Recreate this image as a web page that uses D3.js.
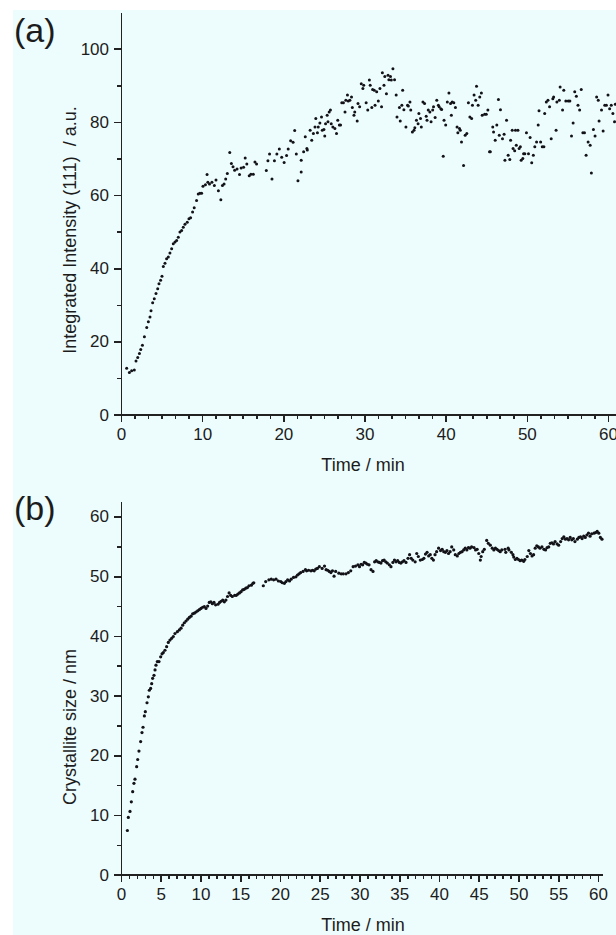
<!DOCTYPE html>
<html>
<head>
	<meta charset="utf-8">
	<title>Integrated intensity and crystallite size vs time</title>
	<style type="text/css">
		html, body {
			margin: 0;
			padding: 0;
			background: white;
		}
		svg text {
			font-family: 'Liberation Sans', Arial, sans-serif;
			fill: #1c1c1c;
		}
		.axis path, .axis line {
			stroke: #222;
			stroke-width: 1.6;
			shape-rendering: crispEdges;
		}
		.axis text {
			font-size: 17px;
		}
		.title {
			font-size: 18px;
			white-space: pre;
		}
		.panelLabel {
			font-size: 34px;
		}
	</style>
</head>
<body>

<svg id="fig" width="616" height="935"></svg>

<script src="https://cdn.jsdelivr.net/npm/d3@7"></script>
<script type="text/javascript">

// (a) integrated intensity of the (111) reflection, [time / min, a.u.]
var intensity = [
	[0.7,12.7],[1.03,11.5],[1.31,12.0],[1.64,12.2],[1.85,14.7],[2.06,15.6],[2.27,16.7],[2.43,17.8],[2.64,19.0],[2.88,21.3],
	[3.17,23.8],[3.37,25.4],[3.57,26.7],[3.7,28.4],[3.9,30.6],[4.1,31.7],[4.31,33.1],[4.52,34.4],[4.68,35.8],[4.88,36.7],
	[5.05,37.8],[5.21,40.5],[5.42,41.4],[5.62,42.6],[5.83,43.1],[6.03,44.2],[6.24,45.3],[6.44,46.7],[6.65,47.2],[6.85,47.6],
	[7.06,48.5],[7.26,49.9],[7.47,50.3],[7.67,51.2],[7.88,52.0],[8.16,52.6],[8.37,53.5],[8.57,53.8],[8.82,55.4],[9.02,56.5],
	[9.31,58.5],[9.52,60.3],[9.72,60.5],[9.93,60.5],[10.1,62.4],[10.4,62.8],[10.6,65.6],[10.7,63.5],[10.9,63.0],[11.2,63.5],
	[11.5,62.6],[11.7,64.1],[12.0,61.2],[12.3,58.7],[12.5,62.6],[12.7,63.0],[12.9,64.4],[13.1,65.9],[13.4,71.6],[13.6,68.6],
	[13.8,67.7],[14.0,66.8],[14.3,67.1],[14.6,65.6],[14.8,67.4],[15.1,67.6],[15.3,70.1],[15.5,68.5],[15.8,65.3],[16.0,65.7],
	[16.3,65.7],[16.5,69.0],[16.7,68.5],
	[17.9,66.7],[18.1,69.4],[18.3,71.2],[18.6,64.4],[18.9,69.4],[19.2,71.2],[19.5,72.6],[19.8,70.3],[20.1,68.9],[20.4,70.8],
	[20.6,72.6],[20.9,74.8],[21.2,74.4],[21.4,77.6],[21.6,71.2],[21.8,63.9],[22.2,66.3],[22.2,69.5],[22.5,71.8],[22.7,75.9],
	[22.9,72.7],[22.95,72.3],[23.3,77.7],[23.5,75.0],[23.7,76.8],[23.9,78.6],[24.0,80.9],[24.2,77.0],[24.3,78.6],[24.5,79.7],
	[24.7,81.3],[24.8,77.7],[25.0,77.9],[25.1,76.1],[25.2,79.5],[25.4,81.8],[25.5,80.0],[25.65,82.7],[25.8,83.2],[25.9,79.5],
	[26.1,78.6],[26.35,78.2],[26.55,76.8],[26.7,80.4],[26.9,79.1],[27.05,79.1],[27.2,85.2],[27.4,85.2],[27.6,82.7],[27.7,85.9],
	[27.9,87.3],[28.0,85.7],[28.2,85.9],[28.4,86.8],[28.5,83.9],[28.7,81.8],[28.8,82.7],[29.1,80.2],[29.2,85.0],[29.4,84.1],
	[29.6,90.4],[29.8,89.1],[29.9,90.0],[30.2,85.2],[30.4,83.2],[30.6,91.4],[30.7,90.0],[30.9,83.9],[31.0,88.8],[31.2,88.6],
	[31.3,84.5],[31.5,88.2],[31.7,85.7],[31.9,89.1],[32.1,84.1],[32.2,93.4],[32.4,90.0],[32.5,92.4],[32.7,87.7],[32.9,92.7],
	[33.0,91.5],[33.2,92.4],[33.3,91.4],[33.5,94.5],[33.7,91.5],[33.9,87.3],[34.0,81.3],[34.3,83.9],[34.4,80.2],[34.6,84.5],
	[34.7,88.6],[34.85,83.3],[35.1,78.6],[35.3,84.5],[35.4,84.3],[35.6,85.4],[35.7,83.2],[35.9,77.2],[36.1,77.7],[36.2,78.4],
	[36.4,80.4],[36.6,79.5],[36.7,82.3],[36.9,80.9],[37.0,78.6],[37.2,85.4],[37.4,85.0],[37.6,81.5],[37.7,80.4],[37.85,83.2],
	[38.05,82.7],[38.2,80.0],[38.4,83.2],[38.5,84.1],[38.7,81.2],[38.9,85.9],[39.1,84.5],[39.2,84.1],[39.4,83.6],[39.5,83.4],
	[39.7,70.6],[39.8,80.4],[40.0,79.1],[40.2,85.4],[40.4,87.9],[40.6,85.0],[40.7,81.8],[40.8,85.4],[41.0,85.2],[41.2,83.9],
	[41.4,78.6],[41.5,77.0],[41.7,78.2],[41.8,77.7],[41.95,74.5],[42.2,68.1],[42.4,76.3],[42.6,76.8],[42.8,85.2],[42.98,81.3],
	[43.2,80.9],[43.3,84.5],[43.5,87.3],[43.7,85.9],[43.8,89.7],[44.0,84.5],[44.2,86.8],[44.4,87.9],[44.5,81.8],[44.8,82.1],
	[45.0,82.1],[45.2,83.2],[45.4,71.8],[45.5,71.8],[45.8,78.6],[45.9,77.2],[46.1,75.0],[46.3,79.1],[46.5,86.1],[46.6,76.3],
	[46.75,83.3],[47.0,75.4],[47.2,76.6],[47.3,69.5],[47.5,80.4],[47.7,70.9],[47.9,69.7],[48.0,75.0],[48.2,77.7],[48.3,72.7],
	[48.5,72.1],[48.6,77.7],[48.7,73.6],[48.9,77.7],[49.05,72.7],[49.2,73.2],[49.3,69.5],[49.5,70.0],[49.6,71.3],[49.75,71.3],
	[49.95,77.0],[50.2,71.3],[50.4,75.7],[50.6,68.8],[50.8,70.9],[50.98,73.2],[51.2,74.5],[51.4,79.1],[51.5,83.0],[51.7,74.5],
	[51.9,73.2],[52.1,73.2],[52.2,82.3],[52.4,85.4],[52.6,85.9],[52.8,84.1],[53.0,75.4],[53.2,86.3],[53.3,86.8],[53.6,77.7],
	[53.7,85.4],[54.0,85.9],[54.1,89.5],[54.4,83.2],[54.55,88.6],[54.8,85.7],[55.1,85.7],[55.3,85.7],[55.5,76.1],[55.7,79.7],
	[55.9,88.2],[56.1,87.0],[56.3,84.5],[56.5,83.2],[56.7,88.8],[56.9,77.0],[57.1,77.0],[57.3,70.9],[57.55,74.5],[57.8,73.6],
	[57.95,66.0],[58.2,77.9],[58.4,76.1],[58.6,86.8],[58.8,85.9],[58.9,80.2],[59.2,83.2],[59.4,77.5],[59.6,84.5],[59.8,84.5],
	[60.0,87.3],[60.2,83.6],[60.4,84.5],[60.6,82.3],[60.8,80.0],[60.9,84.8]
];

// (b) crystallite size, [time / min, nm]
var crystSize = [
	[0.8,7.4],[0.92,9.6],[1.13,10.6],[1.3,12.2],[1.47,13.9],[1.63,15.3],[1.76,16.0],[1.97,18.1],[2.1,19.3],[2.26,20.7],
	[2.47,22.3],[2.64,23.8],[2.77,24.7],[2.94,26.6],[3.06,27.3],[3.27,28.8],[3.44,29.8],[3.56,30.9],[3.73,31.2],[3.86,32.0],
	[3.98,32.9],[4.15,33.4],[4.28,34.3],[4.4,35.1],[4.57,35.7],[4.78,35.7],[4.99,36.5],[5.16,37.0],[5.32,37.2],[5.53,37.6],
	[5.74,38.2],[5.95,38.9],[6.16,39.3],[6.37,39.6],[6.58,39.9],[6.79,40.4],[7.09,40.7],[7.34,41.0],[7.55,41.3],[7.76,41.8],
	[7.97,42.2],[8.18,42.5],[8.39,42.8],[8.6,43.1],[8.81,43.3],[9.01,43.7],[9.22,43.8],[9.43,44.0],[9.64,44.2],[9.85,44.4],
	[10.06,44.6],[10.27,44.8],[10.48,44.9],[10.69,44.6],[10.9,45.0],[11.1,45.6],[11.3,45.7],[11.5,45.4],[11.7,45.6],[11.9,45.2],
	[12.2,45.3],[12.4,45.6],[12.6,45.8],[12.8,46.0],[13.0,45.7],[13.2,46.0],[13.4,46.6],[13.6,47.2],[13.8,46.8],[14.0,46.6],
	[14.3,46.8],[14.5,46.8],[14.7,47.0],[14.9,47.2],[15.1,47.4],[15.3,47.7],[15.5,47.8],[15.7,48.0],[15.9,48.1],[16.1,48.4],
	[16.4,48.5],[16.6,48.8],[16.7,48.9],
	[17.9,48.4],[18.2,49.1],[18.6,49.4],[18.9,49.5],[19.2,49.4],[19.5,49.5],[19.8,49.2],[20.1,49.1],[20.3,48.9],[20.55,48.8],
	[20.75,49.1],[20.96,49.4],[21.2,49.2],[21.4,49.5],[21.7,49.8],[22.0,49.9],[22.2,50.2],[22.4,50.4],[22.6,50.6],[22.9,50.8],
	[23.2,51.1],[23.35,50.9],[23.6,51.0],[23.9,50.9],[24.1,51.0],[24.3,50.9],[24.5,51.2],[24.7,51.3],[24.95,51.6],[25.3,51.3],
	[25.6,51.7],[25.8,51.1],[26.0,51.0],[26.2,50.8],[26.4,50.6],[26.6,50.9],[26.8,50.0],[27.0,50.8],[27.4,50.5],[27.7,50.4],
	[27.96,50.4],[28.3,50.4],[28.6,50.6],[28.9,50.9],[29.2,51.6],[29.5,51.7],[29.8,51.9],[30.0,51.6],[30.2,52.0],[30.4,51.9],
	[30.6,52.3],[30.8,52.2],[31.0,52.0],[31.2,51.9],[31.45,51.1],[31.7,50.8],[31.9,52.4],[32.1,52.6],[32.3,52.4],[32.5,52.3],
	[32.7,52.2],[32.9,52.6],[33.1,52.7],[33.3,52.4],[33.5,52.2],[33.75,51.9],[33.96,51.6],[34.2,52.3],[34.4,52.7],[34.6,52.4],
	[34.8,52.6],[35.0,52.3],[35.2,52.2],[35.4,52.4],[35.6,52.6],[35.85,52.3],[36.1,53.0],[36.3,53.6],[36.5,53.0],[36.7,52.7],
	[37.0,52.4],[37.2,53.8],[37.4,53.3],[37.65,52.7],[37.9,52.8],[38.1,53.0],[38.3,53.7],[38.5,54.0],[38.7,53.4],[38.9,53.6],
	[39.1,53.0],[39.3,52.7],[39.5,53.6],[39.7,54.1],[39.95,54.7],[40.2,54.3],[40.4,54.5],[40.6,54.1],[40.8,54.0],[41.0,54.3],
	[41.2,53.8],[41.4,54.1],[41.6,54.9],[41.85,54.4],[42.05,53.6],[42.3,53.4],[42.5,53.8],[42.7,54.0],[42.9,54.1],[43.1,54.4],
	[43.3,54.7],[43.5,54.4],[43.7,54.8],[43.9,54.7],[44.1,54.9],[44.4,54.8],[44.6,54.4],[44.8,54.5],[45.0,53.8],[45.2,52.7],
	[45.3,53.3],[45.5,54.1],[45.7,54.5],[46.0,56.0],[46.2,55.5],[46.45,55.2],[46.7,54.7],[46.9,54.4],[47.1,54.7],[47.3,54.5],
	[47.5,54.3],[47.7,54.1],[47.9,54.4],[48.3,54.5],[48.4,54.0],[48.7,54.7],[48.8,54.4],[49.1,54.0],[49.3,53.6],[49.4,53.2],
	[49.6,52.8],[49.8,53.0],[50.0,52.8],[50.2,52.6],[50.4,52.7],[50.65,52.5],[50.8,52.8],[51.1,53.3],[51.3,54.3],[51.5,53.8],
	[51.7,53.4],[51.9,53.6],[52.1,54.7],[52.3,55.1],[52.5,54.9],[52.7,54.7],[52.95,54.9],[53.2,54.5],[53.4,54.4],[53.6,54.8],
	[53.8,54.9],[54.0,55.5],[54.2,55.6],[54.4,55.4],[54.6,55.8],[54.85,55.4],[55.05,55.2],[55.3,55.8],[55.5,56.3],[55.7,56.6],
	[55.9,56.2],[56.1,56.3],[56.3,56.1],[56.5,56.5],[56.7,56.1],[56.9,56.3],[57.1,55.8],[57.4,56.2],[57.6,56.5],[57.8,56.6],
	[58.0,56.3],[58.2,56.7],[58.4,56.5],[58.6,56.9],[58.8,57.2],[59.0,56.7],[59.2,57.1],[59.5,57.2],[59.7,57.3],[59.9,57.5],
	[60.1,57.2],[60.3,56.5],[60.5,56.2]
];

// tick values
var ticksXa = [0, 10, 20, 30, 40, 50, 60];
var ticksYa = [0, 20, 40, 60, 80, 100];
var ticksXb = [0, 5, 10, 15, 20, 25, 30, 35, 40, 45, 50, 55, 60];
var ticksYb = [0, 10, 20, 30, 40, 50, 60];

var svg = d3.select("#fig");

// light cyan plotting background
svg.append("rect")
	.attr("x", 13)
	.attr("y", 10)
	.attr("width", 603)
	.attr("height", 925)
	.attr("fill", "#edfdfd");

function panel(opt) {

	var x = d3.scaleLinear().domain(opt.xDomain).range(opt.xRange);
	var y = d3.scaleLinear().domain(opt.yDomain).range(opt.yRange);

	var g = svg.append("g");

	// minor ticks first, majors drawn on top
	g.append("g")
		.attr("class", "axis")
		.attr("transform", "translate(0," + opt.yRange[0] + ")")
		.call(d3.axisBottom(x).tickValues(opt.xMinor).tickSize(4).tickSizeOuter(0).tickFormat(""))
		.select(".domain").remove();

	g.append("g")
		.attr("class", "axis")
		.attr("transform", "translate(" + opt.xRange[0] + ",0)")
		.call(d3.axisLeft(y).tickValues(opt.yMinor).tickSize(4).tickSizeOuter(0).tickFormat(""))
		.select(".domain").remove();

	g.append("g")
		.attr("class", "axis")
		.attr("transform", "translate(0," + opt.yRange[0] + ")")
		.call(d3.axisBottom(x).tickValues(opt.xTicks).tickSize(7).tickSizeOuter(0).tickPadding(6));

	g.append("g")
		.attr("class", "axis")
		.attr("transform", "translate(" + opt.xRange[0] + ",0)")
		.call(d3.axisLeft(y).tickValues(opt.yTicks).tickSize(7).tickSizeOuter(0).tickPadding(5));

	g.selectAll(".axis text").attr("fill", "#1c1c1c");

	g.append("g")
		.selectAll("circle")
		.data(opt.data)
		.enter().append("circle")
		.attr("cx", function(d) { return x(d[0]); })
		.attr("cy", function(d) { return y(d[1]); })
		.attr("r", opt.r)
		.attr("fill", "#121218");

	g.append("text")
		.attr("class", "title")
		.attr("x", 363)
		.attr("y", opt.xTitleY)
		.attr("text-anchor", "middle")
		.text("Time / min");

	g.append("text")
		.attr("class", "title")
		.attr("transform", "translate(" + 76 + "," + opt.yTitleY + ") rotate(-90)")
		.attr("text-anchor", "middle")
		.text(opt.yTitle);

	g.append("text")
		.attr("class", "panelLabel")
		.attr("x", 14)
		.attr("y", opt.labelY)
		.text(opt.label);
}

function range(a, b, step, skip) {
	var out = [];
	for (var i = 0; a + i * step <= b + 1e-9; i++) {
		var v = a + i * step;
		if (i % skip !== 0) out.push(v);
	}
	return out;
}

panel({
	data: intensity,
	r: 1.5,
	xDomain: [0, 62],
	xRange: [121, 121 + 62 * 8.117],
	yDomain: [0, 110],
	yRange: [414.7, 12],
	xTicks: ticksXa,
	yTicks: ticksYa,
	xMinor: range(0, 62, 10 / 6, 6),
	yMinor: range(0, 100, 10, 2),
	xTitleY: 471,
	yTitle: "Integrated Intensity (111)  / a.u.",
	yTitleY: 230,
	label: "(a)",
	labelY: 42
});

panel({
	data: crystSize,
	r: 1.6,
	xDomain: [0, 60.6],
	xRange: [121, 121 + 60.6 * 7.95],
	yDomain: [0, 62.5],
	yRange: [874.7, 874.7 - 62.5 * 5.97],
	xTicks: ticksXb,
	yTicks: ticksYb,
	xMinor: range(0, 60, 1, 5),
	yMinor: range(0, 60, 5, 2),
	xTitleY: 931,
	yTitle: "Crystallite size / nm",
	yTitleY: 727,
	label: "(b)",
	labelY: 520
});

</script>

</body>
</html>
